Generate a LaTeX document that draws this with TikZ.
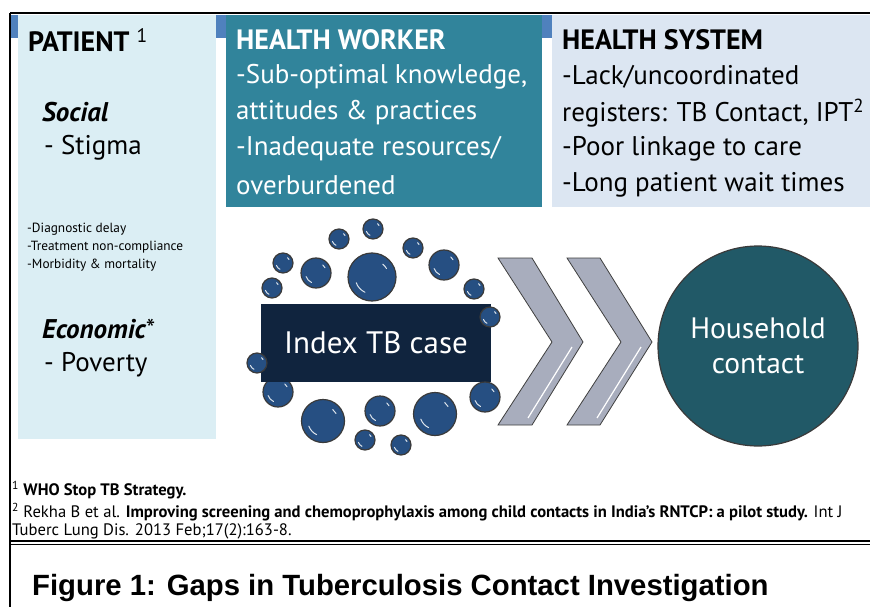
\documentclass[tikz,border=0pt]{standalone}
\usepackage{fontspec}
\setmainfont{PT Sans}
\newfontfamily\capfont{Liberation Sans}
\usetikzlibrary{positioning,calc}
\definecolor{patientbg}{HTML}{DBEEF4}
\definecolor{workerbg}{HTML}{31849B}
\definecolor{systembg}{HTML}{DCE6F2}
\definecolor{tabblue}{HTML}{4F81BD}
\definecolor{indexbg}{HTML}{10243E}
\definecolor{bubblefill}{HTML}{264F82}
\definecolor{bubbleline}{HTML}{3A3A3A}
\definecolor{chevfill}{HTML}{A8ADBD}
\definecolor{chevline}{HTML}{3F3F3F}
\definecolor{househ}{HTML}{215967}
\begin{document}
\begin{tikzpicture}[x=1pt,y=-1pt,
  hdr/.style={anchor=west, inner sep=0pt, font=\fontsize{28}{32}\selectfont\bfseries},
  body/.style={anchor=west, inner sep=0pt, font=\fontsize{27}{32}\selectfont},
  small/.style={anchor=west, inner sep=0pt, font=\fontsize{13.3}{15}\selectfont},
  note/.style={anchor=west, inner sep=0pt, font=\fontsize{16.6}{18}\selectfont},
  bubble/.style={circle, fill=bubblefill, draw=bubbleline, line width=1.2pt, inner sep=0pt,
    path picture={\path let \p1=(path picture bounding box.east), \p2=(path picture bounding box.center),
      \n1={0.7*veclen(\x1-\x2,\y1-\y2)} in
      [draw=white!85!bubblefill, line width=1pt, line cap=round]
      ($(\p2)+(200:\n1)$) arc[start angle=200, end angle=245, radius=\n1]
      ($(\p2)+(30:\n1)$) arc[start angle=30, end angle=50, radius=\n1];}},
  chev/.style={fill=chevfill, draw=chevline, line width=0.8pt, line join=miter}]
\useasboundingbox (0,0) rectangle (870,607);
\fill[white] (0,0) rectangle (870,607);
\fill[patientbg] (18,15) rectangle (216,439);
\fill[workerbg] (226,15) rectangle (542,207);
\fill[systembg] (552,15) rectangle (870,207);
\fill[tabblue] (10,15) rectangle (18,38);
\fill[tabblue] (216,15) rectangle (226,38);
\fill[tabblue] (542,15) rectangle (552,38);
\draw[line width=2pt] (10,13) -- (870,13);
\draw[line width=1.5pt] (10,13) -- (10,607);
\draw[line width=2pt] (10,541) -- (870,541);
\draw[line width=1.2pt] (10,544.5) -- (870,544.5);
\node [hdr] (pat) at (28,40) {PATIENT \textsuperscript{\mdseries 1}};
\node [body] (soc) at (42,112) {\bfseries\itshape Social};
\node [body] (stig) at (44,148) {- Stigma};
\node [small] (d1) at (27,229) {-Diagnostic delay};
\node [small] (d2) at (27,247) {-Treatment non-compliance};
\node [small] (d3) at (27,265) {-Morbidity \& mortality};
\node [body] (eco) at (42,329) {\bfseries\itshape Economic{\mdseries\upshape *}};
\node [body] (pov) at (44,365) {- Poverty};
\node [hdr, text=white] (hw) at (236,40) {HEALTH WORKER};
\node [body, text=white] (hw1) at (236,77) {-Sub-optimal knowledge,};
\node [body, text=white] (hw2) at (236,113) {attitudes \& practices};
\node [body, text=white] (hw3) at (236,149) {-Inadequate resources/};
\node [body, text=white] (hw4) at (236,185) {overburdened};
\node [hdr] (hs) at (562,40) {HEALTH SYSTEM};
\node [body] (hs1) at (562,77) {-Lack/uncoordinated};
\node [body] (hs2) at (562,113) {registers: TB Contact, IPT\textsuperscript{2}};
\node [body] (hs3) at (562,149) {-Poor linkage to care};
\node [body] (hs4) at (562,185) {-Long patient wait times};
\node [bubble, minimum size=48] (b1) at (372,277) {};
\node [bubble, minimum size=30] (b2) at (316,273) {};
\node [bubble, minimum size=20] (b3) at (283,263) {};
\node [bubble, minimum size=20] (b4) at (272,288) {};
\node [bubble, minimum size=20] (b5) at (339,239) {};
\node [bubble, minimum size=20] (b6) at (373,229) {};
\node [bubble, minimum size=20] (b7) at (413,248) {};
\node [bubble, minimum size=30] (b8) at (444,265) {};
\node [bubble, minimum size=20] (b9) at (474,289) {};
\node [bubble, minimum size=43] (b10) at (323,421) {};
\node [bubble, minimum size=30] (b11) at (380,411) {};
\node [bubble, minimum size=43] (b12) at (435,414) {};
\node [bubble, minimum size=30] (b13) at (278,392) {};
\node [bubble, minimum size=20] (b14) at (365,440) {};
\node [bubble, minimum size=20] (b15) at (401,445) {};
\node [fill=indexbg, minimum width=230, minimum height=78, text=white, font=\fontsize{31}{36}\selectfont] (idx) at (376,343) {Index TB case};
\node [bubble, minimum size=20] (b16) at (490,317) {};
\node [bubble, minimum size=20] (b17) at (257,363) {};
\node [bubble, minimum size=30] (b18) at (485,397) {};
\filldraw[chev] (498,258) -- (532,258) -- (583,342) -- (532,425) -- (498,425) -- (552,342) -- cycle;
\filldraw[chev] (567,258) -- (600,258) -- (652,342) -- (600,425) -- (567,425) -- (621,342) -- cycle;
\draw[white, line width=1.2pt] (528,418) -- (572,347);
\draw[white, line width=1.2pt] (597,418) -- (641,347);
\node [circle, fill=househ, draw=bubbleline, line width=1.2pt, minimum size=200, align=center, text=white, font=\fontsize{29.5}{35}\selectfont] (hh) at (758,346) {Household\\contact};
\node [note] (n1) at (12,490) {\textsuperscript{1} \textbf{WHO Stop TB Strategy.}};
\node [note] (n2) at (12,512) {\textsuperscript{2} Rekha B et al. \textbf{Improving screening and chemoprophylaxis among child contacts in India's RNTCP: a pilot study.} Int J};
\node [note] (n3) at (12,531) {Tuberc Lung Dis. 2013 Feb;17(2):163-8.};
\node [anchor=west, inner sep=0pt, font=\capfont\fontsize{29.3}{32}\selectfont\bfseries] (cap) at (32,588) {Figure 1: Gaps in Tuberculosis Contact Investigation};
\end{tikzpicture}
\end{document}
